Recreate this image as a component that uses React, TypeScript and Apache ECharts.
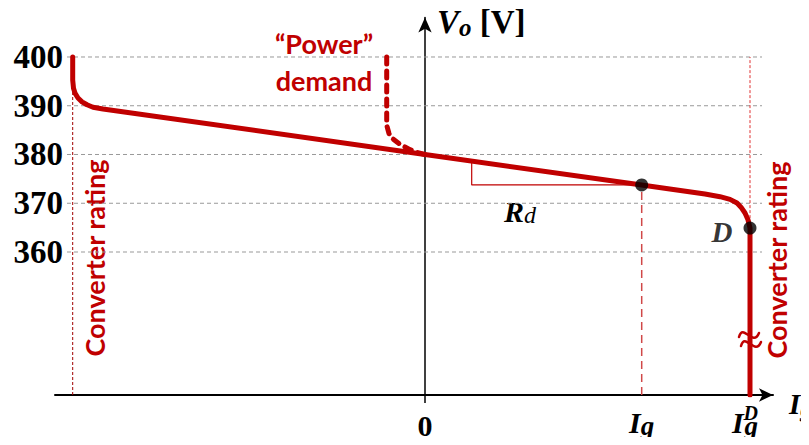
import React, { useEffect, useRef } from "react";
import * as echarts from "echarts";

// ---- data (diagram units: x = current, y = voltage [V]) ----
const yTickValues = [360, 370, 380, 390, 400];
const gridLevels = [400, 390, 380, 370, 360];
const gridSpan: [number, number] = [-35.8, 33.7];
const xTickValues = [0, 21.67, 32.5];
const xTickNames = ["zero", "Ig", "IgD"];

const ratingLeftX = -35.23;
const ratingRightX = 32.5;
const ratingTop = 400;

const Y_MIN = 330.67;
const Y_MAX = 408.1;
const X_MIN = -37;
const X_MAX = 34.8;

const mainCurve: [number, number][] = [
  [-35.23, 400],
  [-35.23, 395.3],
  [-35.15, 393.6],
  [-35.0, 392.6],
  [-34.7, 391.6],
  [-34.3, 390.8],
  [-33.8, 390.2],
  [-33.2, 389.7],
  [-32.2, 389.34],
  [0, 380],
  [21.67, 373.75],
  [28, 371.88],
  [29.5, 371.35],
  [30.5, 370.8],
  [31.2, 370.05],
  [31.6, 369.2],
  [32.0, 368.0],
  [32.3, 366.6],
  [32.5, 364.9],
  [32.5, 330.67],
];

const demandCurve: [number, number][] = [
  [-3.83, 400],
  [-3.83, 386],
  [-3.6, 384.3],
  [-3.2, 383.2],
  [-2.5, 382.1],
  [-1.5, 381.0],
  [-0.6, 380.3],
  [0, 380],
];

const rdTriangle: [number, number][] = [
  [4.67, 378.65],
  [4.67, 373.75],
  [21.67, 373.75],
];

const igPoint: [number, number] = [21.67, 373.75];
const dPoint: [number, number] = [32.5, 364.9];

const RED = "#C00000";
const SERIF = "'Liberation Serif', 'Times New Roman', serif";
const SANS = "Lato, 'Noto Sans', sans-serif";

export default function App() {
  const ref = useRef<HTMLDivElement>(null);

  useEffect(() => {
    if (!ref.current) return;
    const chart = echarts.init(ref.current, undefined, { renderer: "svg" });

    const gridSeries = gridLevels.map((lv) => ({
      type: "line",
      silent: true,
      symbol: "none",
      z: 1,
      data: [
        [gridSpan[0], lv],
        [gridSpan[1], lv],
      ],
      lineStyle: { color: "#999999", width: 1, type: [4, 3] },
    }));

    const option: any = {
      animation: false,
      grid: { left: 55, right: 36, top: 17.5, bottom: 50 },
      xAxis: {
        type: "value",
        min: X_MIN,
        max: X_MAX,
        splitLine: { show: false },
        axisLine: {
          show: true,
          onZero: false,
          symbol: ["none", "arrow"],
          symbolSize: [10, 14],
          lineStyle: { color: "#000", width: 2 },
        },
        axisTick: {
          show: true,
          customValues: [0],
          length: 8,
          lineStyle: { color: "#000", width: 1.5 },
        },
        axisLabel: {
          customValues: xTickValues,
          margin: 8,
          formatter: (v: number) => {
            const i = xTickValues.findIndex((t) => Math.abs(t - v) < 0.01);
            const n = xTickNames[i];
            if (n === "zero") return "{n|0}";
            if (n === "IgD") return "{i|I}{sup|D}{sub|g}{sp| }";
            return "{i|I}{sub|g}";
          },
          rich: {
            sp: { fontSize: 10, lineHeight: 10, width: 10, align: "left" },
            sup: { fontFamily: SERIF, fontWeight: "bold", fontStyle: "italic", fontSize: 20, lineHeight: 14, width: 1, align: "left", padding: [0, 0, 18, 0], color: "#000" },
            n: { fontFamily: SERIF, fontWeight: "bold", fontSize: 30, lineHeight: 38, align: "left", padding: [6, 0, 0, 0], color: "#000" },
            i: { fontFamily: SERIF, fontWeight: "bold", fontStyle: "italic", fontSize: 30, lineHeight: 38, align: "left", color: "#000" },
            sub: { fontFamily: SERIF, fontWeight: "bold", fontStyle: "italic", fontSize: 27, lineHeight: 26, align: "left", padding: [8, 0, 0, 0], color: "#000" },
          },
        },
      },
      yAxis: [
        {
          type: "value",
          min: Y_MIN,
          max: Y_MAX,
          position: "left",
          offset: -8,
          splitLine: { show: false },
          axisLine: { show: false, onZero: false },
          axisTick: { show: false },
          axisLabel: {
            customValues: yTickValues,
            margin: 0,
            fontFamily: SERIF,
            fontWeight: "bold",
            fontSize: 33,
            color: "#000",
          },
        },
        {
          type: "value",
          min: Y_MIN,
          max: Y_MAX,
          position: "left",
          splitLine: { show: false },
          axisLine: {
            show: true,
            onZero: true,
            onZeroAxisIndex: 0,
            symbol: ["none", "arrow"],
            symbolSize: [10, 15],
            lineStyle: { color: "#000", width: 1.5 },
          },
          axisTick: { show: false },
          axisLabel: { show: false },
        },
      ],
      series: [
        ...gridSeries,
        {
          type: "line",
          silent: true,
          symbol: "none",
          z: 2,
          data: [
            [ratingLeftX, Y_MIN],
            [ratingLeftX, ratingTop],
          ],
          lineStyle: { color: "#A00000", width: 1, type: [3, 2] },
        },
        {
          type: "line",
          silent: true,
          symbol: "none",
          z: 2,
          data: [
            [ratingRightX, dPoint[1]],
            [ratingRightX, ratingTop],
          ],
          lineStyle: { color: "#E03030", width: 1, type: [3, 2] },
        },
        {
          type: "line",
          silent: true,
          symbol: "none",
          z: 2,
          data: [
            [igPoint[0], Y_MIN],
            igPoint,
          ],
          lineStyle: { color: "#D04848", width: 1.5, type: [8, 5] },
        },
        {
          type: "line",
          silent: true,
          symbol: "none",
          z: 3,
          data: rdTriangle,
          lineStyle: { color: RED, width: 1.2 },
        },
        {
          type: "line",
          silent: true,
          symbol: "none",
          z: 4,
          data: demandCurve,
          lineStyle: { color: RED, width: 5, type: [7, 7], cap: "round" },
        },
        {
          type: "line",
          silent: true,
          symbol: "none",
          z: 5,
          data: mainCurve,
          lineStyle: { color: RED, width: 5, cap: "round", join: "round" },
        },
        {
          type: "scatter",
          silent: true,
          z: 6,
          symbolSize: 13,
          itemStyle: { color: "#000" },
          data: [
            { value: igPoint },
            {
              value: dPoint,
              label: {
                show: true,
                position: "left",
                distance: 11,
                offset: [0, 4],
                formatter: "D",
                fontFamily: SERIF,
                fontWeight: "bold",
                fontStyle: "italic",
                fontSize: 29,
                color: "#000",
              },
            },
          ],
        },
      ],
      graphic: [
        {
          type: "text",
          x: 437,
          y: 22,
          style: {
            text: "{v|V}{o|o}{b| [V]}",
            verticalAlign: "middle",
            rich: {
              v: { fontFamily: SERIF, fontWeight: "bold", fontStyle: "italic", fontSize: 33, lineHeight: 36, fill: "#000" },
              o: { fontFamily: SERIF, fontWeight: "bold", fontStyle: "italic", fontSize: 25, lineHeight: 25, padding: [11, 0, 0, 0], fill: "#000" },
              b: { fontFamily: SERIF, fontWeight: "bold", fontSize: 33, lineHeight: 36, fill: "#000" },
            },
          },
        },
        {
          type: "text",
          x: 789,
          y: 404,
          style: {
            text: "{i|I}{s|g}",
            verticalAlign: "middle",
            rich: {
              i: { fontFamily: SERIF, fontWeight: "bold", fontStyle: "italic", fontSize: 29, lineHeight: 34, fill: "#000" },
              s: { fontFamily: SERIF, fontWeight: "bold", fontStyle: "italic", fontSize: 26, lineHeight: 26, padding: [8, 0, 0, 0], fill: "#000" },
            },
          },
        },
        {
          type: "text",
          x: 520,
          y: 211,
          style: {
            text: "{r|R}{d|d}",
            align: "center",
            verticalAlign: "middle",
            rich: {
              r: { fontFamily: SERIF, fontWeight: "bold", fontStyle: "italic", fontSize: 30, lineHeight: 34, fill: "#000" },
              d: { fontFamily: SERIF, fontStyle: "italic", fontSize: 24, lineHeight: 24, padding: [8, 0, 0, 0], fill: "#000" },
            },
          },
        },
        {
          type: "text",
          x: 324,
          y: 62,
          style: {
            text: "“Power”\ndemand",
            align: "center",
            verticalAlign: "middle",
            lineHeight: 37,
            fontFamily: SANS,
            fontWeight: "bold",
            fontSize: 27,
            fill: RED,
          },
        },
        {
          type: "text",
          x: 94,
          y: 258,
          rotation: Math.PI / 2,
          style: {
            text: "Converter rating",
            align: "center",
            verticalAlign: "middle",
            fontFamily: SANS,
            fontWeight: "bold",
            fontSize: 27,
            fill: RED,
          },
        },
        {
          type: "text",
          x: 776,
          y: 260,
          rotation: Math.PI / 2,
          style: {
            text: "Converter rating",
            align: "center",
            verticalAlign: "middle",
            fontFamily: SANS,
            fontWeight: "bold",
            fontSize: 27,
            fill: RED,
          },
        },
        {
          type: "bezierCurve",
          z: 100,
          shape: { x1: 739, y1: 337, cpx1: 743, cpy1: 322, cpx2: 753, cpy2: 348, x2: 759, y2: 333 },
          style: { stroke: RED, lineWidth: 2.5, fill: "none", lineCap: "round" },
        },
        {
          type: "bezierCurve",
          z: 100,
          shape: { x1: 741, y1: 346, cpx1: 745, cpy1: 331, cpx2: 755, cpy2: 357, x2: 761, y2: 342 },
          style: { stroke: RED, lineWidth: 2.5, fill: "none", lineCap: "round" },
        },
      ],
    };

    chart.setOption(option);
    return () => chart.dispose();
  }, []);

  return <div ref={ref} style={{ width: 809, height: 445, margin: -8 }} />;
}
